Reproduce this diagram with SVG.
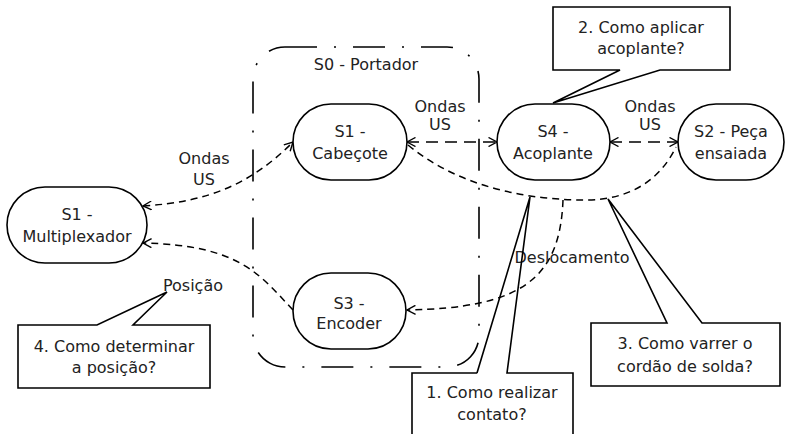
<svg xmlns="http://www.w3.org/2000/svg" width="786" height="434" viewBox="0 0 786 434">
<style>
text{font-family:"DejaVu Sans","Liberation Sans",sans-serif;font-size:16px;fill:#222;text-anchor:middle}
.node{fill:#fff;stroke:#000;stroke-width:1.6}
.con{fill:none;stroke:#000;stroke-width:1.5;stroke-dasharray:7 5}
.str{fill:none;stroke:#000;stroke-width:1.5;stroke-dasharray:12 7}
.box{fill:#fff;stroke:none}
.call{fill:none;stroke:#000;stroke-width:1.6}
.carrier{fill:none;stroke:#000;stroke-width:1.6;stroke-dasharray:32 17 2 17}
</style>
<defs>
<marker id="arr" viewBox="0 0 10 10" refX="9.5" refY="5" markerWidth="10" markerHeight="10" markerUnits="userSpaceOnUse" orient="auto-start-reverse">
<path d="M1,0.5 L9.5,5 L1,9.5" fill="none" stroke="#000" stroke-width="1.4"/>
</marker>
</defs>
<g id="carrier">
<rect class="carrier" x="253" y="47" width="226" height="320" rx="32" ry="32"/>
<text x="366" y="70">S0 - Portador</text>
</g>
<g id="connectors">
<path class="con" d="M143,206 C210,202 252,183 293,142" marker-start="url(#arr)" marker-end="url(#arr)"/>
<path class="con" d="M293,310 C260,275 240,245 143,243" marker-end="url(#arr)"/>
<path class="str" d="M407,142 L497,142" marker-start="url(#arr)" marker-end="url(#arr)"/>
<path class="str" d="M610,142 L678,142" marker-start="url(#arr)" marker-end="url(#arr)"/>
<path class="con" d="M408,145 C460,188 530,200 585,200 C630,200 660,180 676,147"/>
<path class="con" d="M563,200 C560,280 520,308 407,310" marker-end="url(#arr)"/>
<text x="204" y="164">Ondas</text>
<text x="204" y="185">US</text>
<text x="440" y="112">Ondas</text>
<text x="440" y="130">US</text>
<text x="650" y="112">Ondas</text>
<text x="650" y="130">US</text>
<text x="572" y="263">Deslocamento</text>
<text x="193" y="291">Posição</text>
</g>
<g id="n_multiplexador">
<rect class="node" x="7" y="187" width="140" height="76" rx="38"/>
<text x="77" y="220">S1 -</text>
<text x="77" y="242">Multiplexador</text>
</g>
<g id="n_cabecote">
<rect class="node" x="293" y="104" width="114" height="76" rx="38"/>
<text x="350" y="137">S1 -</text>
<text x="350" y="159">Cabeçote</text>
</g>
<g id="n_acoplante">
<rect class="node" x="497" y="104" width="113" height="76" rx="38"/>
<text x="553" y="137">S4 -</text>
<text x="553" y="159">Acoplante</text>
</g>
<g id="n_peca">
<rect class="node" x="678" y="104" width="106" height="76" rx="38"/>
<text x="731" y="137">S2 - Peça</text>
<text x="731" y="159">ensaiada</text>
</g>
<g id="n_encoder">
<rect class="node" x="293" y="273" width="113" height="76" rx="38"/>
<text x="349" y="309">S3 -</text>
<text x="349" y="329">Encoder</text>
</g>
<g id="callout2">
<rect class="box" x="553" y="7" width="177" height="63"/>
<path class="call" d="M620,70 L553,70 L553,7 L730,7 L730,70 L660,70 L553,103 Z"/>
<text x="641" y="33">2. Como aplicar</text>
<text x="641" y="54">acoplante?</text>
</g>
<g id="callout4">
<rect class="box" x="18" y="325" width="192" height="63"/>
<path class="call" d="M97,325 L18,325 L18,388 L210,388 L210,325 L133,325 L167,292 Z"/>
<text x="114" y="352">4. Como determinar</text>
<text x="114" y="373">a posição?</text>
</g>
<g id="callout3">
<rect class="box" x="591" y="323" width="189" height="63"/>
<path class="call" d="M667,323 L591,323 L591,386 L780,386 L780,323 L702,323 L608,199 Z"/>
<text x="685" y="349">3. Como varrer o</text>
<text x="685" y="372">cordão de solda?</text>
</g>
<g id="callout1">
<rect class="box" x="412" y="373" width="161" height="70"/>
<path class="call" d="M477,373 L412,373 L412,440 M573,440 L573,373 L507,373 L530,197 L477,373"/>
<text x="492" y="398">1. Como realizar</text>
<text x="492" y="420">contato?</text>
</g>
</svg>
